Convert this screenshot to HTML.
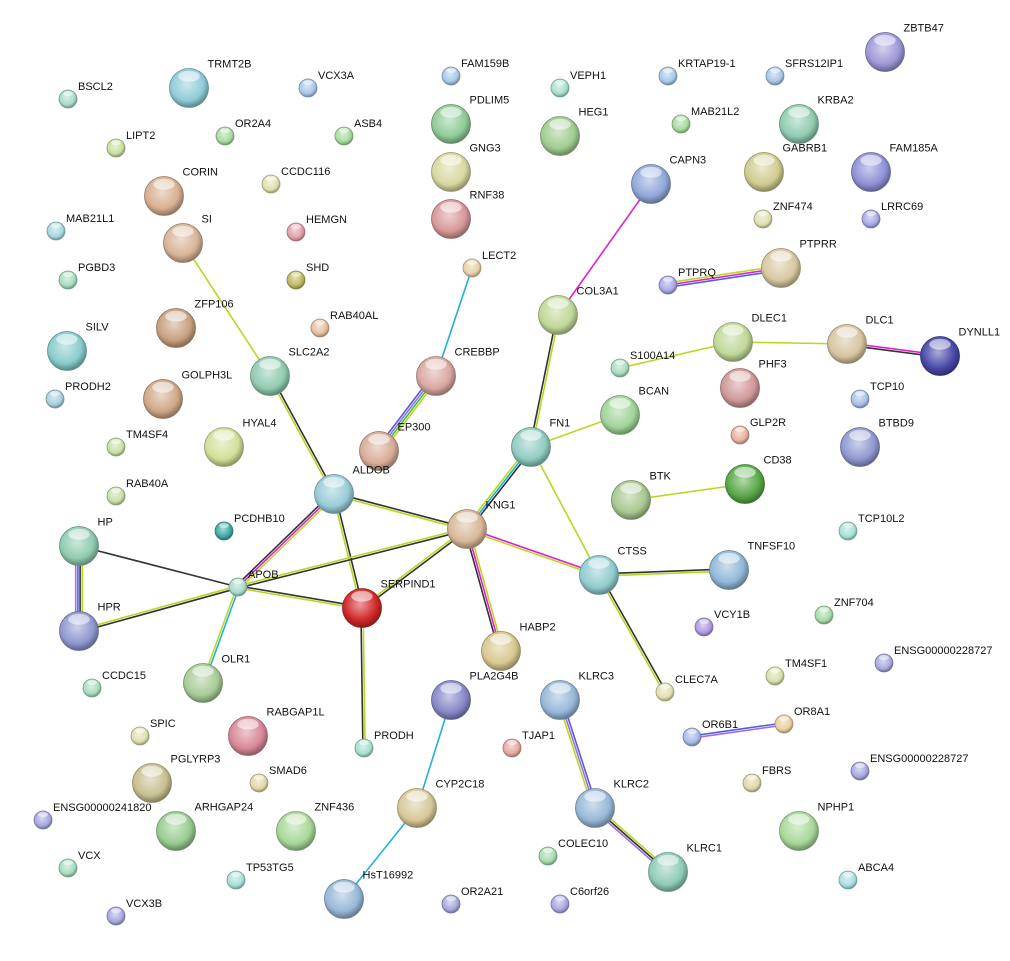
<!DOCTYPE html>
<html><head><meta charset="utf-8">
<style>
html,body{margin:0;padding:0;background:#fff;}
svg{display:block;}
text{font-family:"Liberation Sans",sans-serif;font-size:11px;fill:#111;}
</style></head>
<body>
<svg id="s" width="1010" height="961" xmlns="http://www.w3.org/2000/svg"><defs id="d"></defs><g id="e"></g><g id="n"></g></svg>
<script>
var small=[
["BSCL2",68,99,"#a8dcc8"],["FAM159B",451,76,"#a8c8e8"],["VEPH1",560,88,"#a8e0d0"],["KRTAP19-1",668,76,"#a8c8e8"],["SFRS12IP1",775,76,"#a8c8e8"],
["VCX3A",308,88,"#a8c8e8"],["LIPT2",116,148,"#c8e0a0"],["OR2A4",225,136,"#a8dca0"],["ASB4",344,136,"#a8dca0"],["MAB21L2",681,124,"#a8dca0"],
["CCDC116",271,184,"#e0e0b0"],["ZNF474",763,219,"#e0e0b0"],["LRRC69",871,219,"#a8a8e8"],["MAB21L1",56,231,"#a8d8e0"],["HEMGN",296,232,"#e0a0a8"],
["LECT2",472,268,"#e8d0a8"],["PGBD3",68,280,"#a8dcc0"],["SHD",296,280,"#c0b860"],["PTPRQ",668,285,"#a8a8e8"],["RAB40AL",320,328,"#e8c0a0"],
["S100A14",620,368,"#a8dcc0"],["PRODH2",55,399,"#a8d0e0"],["TCP10",860,399,"#a8c0e8"],["TM4SF4",116,447,"#c8e0a8"],["GLP2R",740,435,"#e8b0a0"],
["RAB40A",116,496,"#c8e0a8"],["PCDHB10",224,531,"#40a8a0"],["TCP10L2",848,531,"#a8e0d8"],["APOB",238,587,"#a8dcc8"],["VCY1B",704,627,"#b098e0"],
["ZNF704",824,615,"#a8dca8"],["ENSG00000228727",884,663,"#a8a8e0"],["TM4SF1",775,676,"#d8e0a8"],["CCDC15",92,688,"#a8dcc0"],["CLEC7A",665,692,"#e0e0b0"],
["OR6B1",692,737,"#a8b8e8"],["OR8A1",784,724,"#e8d0a0"],["SPIC",140,736,"#e0e0b0"],["PRODH",364,748,"#a8e0d0"],["TJAP1",512,748,"#e8a8a0"],
["SMAD6",259,783,"#e0d8a8"],["FBRS",752,783,"#e0d8a8"],["ENSG00000228727",860,771,"#a8a8e0"],["ENSG00000241820",43,820,"#a8a8e0"],["COLEC10",548,856,"#a8dcb0"],
["VCX",68,868,"#a8dcc0"],["TP53TG5",236,880,"#a8e0d8"],["ABCA4",848,880,"#a8e0e0"],["OR2A21",451,904,"#a8a8e0"],["C6orf26",560,904,"#a8a8e0"],["VCX3B",116,916,"#a8a8e0"]
];
var big=[
["ZBTB47",885,52,"#9c98d8"],["TRMT2B",189,88,"#90ccd8"],["PDLIM5",451,124,"#90cc98"],["HEG1",560,136,"#a0cc90"],["KRBA2",799,124,"#90ccb0"],
["CORIN",164,196,"#d8b090"],["GNG3",451,172,"#d8d8a0"],["CAPN3",651,184,"#90a8d8"],["GABRB1",764,172,"#d0cc90"],["FAM185A",871,172,"#9090d8"],
["SI",183,243,"#d8b498"],["RNF38",451,219,"#d89898"],["PTPRR",781,268,"#d8c8a0"],["ZFP106",176,328,"#c8a080"],["COL3A1",558,315,"#c0d898"],
["SILV",67,351,"#88cccc"],["SLC2A2",270,376,"#90ccb0"],["CREBBP",436,376,"#d8a8a0"],["DLEC1",733,342,"#c0d898"],["DLC1",847,344,"#d8c4a0"],
["DYNLL1",940,356,"#4848a8"],["PHF3",740,388,"#d09898"],["GOLPH3L",163,399,"#d0a888"],["BCAN",620,415,"#a0d498"],["HYAL4",224,447,"#d0e098"],
["EP300",379,451,"#d8ac98"],["FN1",531,447,"#90ccc0"],["BTBD9",860,447,"#9098d0"],["CD38",745,484,"#58a848"],["BTK",631,500,"#a8c890"],
["ALDOB",334,494,"#98ccd8"],["KNG1",467,529,"#d8b898"],["HP",79,546,"#90ccb0"],["SERPIND1",362,608,"#d02828"],["CTSS",599,575,"#90ccd0"],
["TNFSF10",729,570,"#90b8d8"],["HPR",79,631,"#9098d0"],["HABP2",501,651,"#d8c890"],["OLR1",203,683,"#a8cc98"],["PLA2G4B",451,700,"#8888c8"],
["KLRC3",560,700,"#98b8d8"],["RABGAP1L",248,736,"#d88898"],["PGLYRP3",152,783,"#c8c090"],["CYP2C18",417,808,"#d8c898"],["KLRC2",595,808,"#98b8d8"],
["ARHGAP24",176,831,"#98cc90"],["ZNF436",296,831,"#a8d898"],["NPHP1",799,831,"#a8d898"],["HsT16992",344,899,"#98b8d8"],["KLRC1",668,872,"#90ccb8"]
];
var P={};small.forEach(function(a){P[a[0]]=[a[1],a[2]];});big.forEach(function(a){P[a[0]]=[a[1],a[2]];});
var Y="#b8d820",K="#333",M="#e020d0",C="#20b0e0",B="#5060e0",V="#a070e0",G="#40c040";
var edges=[
["SI","SLC2A2",[Y]],["LECT2","CREBBP",[C]],["CREBBP","EP300",[Y,G,V,B]],["CAPN3","COL3A1",[M]],["COL3A1","FN1",[Y,K]],
["PTPRQ","PTPRR",[Y,M,B]],["S100A14","DLEC1",[Y]],["DLEC1","DLC1",[Y]],["DLC1","DYNLL1",[M,K]],["FN1","BCAN",[Y]],
["FN1","KNG1",[K,C,Y]],["FN1","CTSS",[Y]],["BTK","CD38",[Y]],["SLC2A2","ALDOB",[K,Y]],["ALDOB","KNG1",[K,Y]],
["ALDOB","APOB",[Y,M,K]],["ALDOB","SERPIND1",[K,Y]],["KNG1","APOB",[K,Y]],["KNG1","SERPIND1",[K,Y]],["KNG1","HABP2",[Y,M,K]],
["KNG1","CTSS",[M,Y]],["CTSS","TNFSF10",[K,Y]],["CTSS","CLEC7A",[K,Y]],["HP","HPR",[Y,K,B,V]],["HP","APOB",[K]],
["HPR","APOB",[Y,K]],["APOB","SERPIND1",[K,Y]],["APOB","OLR1",[C,Y]],["SERPIND1","PRODH",[Y,K]],["PLA2G4B","CYP2C18",[C]],
["CYP2C18","HsT16992",[C]],["KLRC3","KLRC2",[B,V,Y]],["KLRC2","KLRC1",[Y,K,V]],["OR6B1","OR8A1",[B,V]]
];
var NS="http://www.w3.org/2000/svg";
function el(t,at,par){var e=document.createElementNS(NS,t);for(var k in at)e.setAttribute(k,at[k]);if(par)par.appendChild(e);return e;}
var eg=document.getElementById("e"),ng=document.getElementById("n"),dg=document.getElementById("d");
edges.forEach(function(ed){var a=P[ed[0]],b=P[ed[1]];var dx=b[0]-a[0],dy=b[1]-a[1],L=Math.sqrt(dx*dx+dy*dy);var nx=-dy/L,ny=dx/L;var n=ed[2].length;
ed[2].forEach(function(c,i){var o=(i-(n-1)/2)*2.2;el("line",{x1:a[0]+nx*o,y1:a[1]+ny*o,x2:b[0]+nx*o,y2:b[1]+ny*o,stroke:c,"stroke-width":1.6},eg);});});
var gid=0;
function shade(hex,f){var r=parseInt(hex.substr(1,2),16),g=parseInt(hex.substr(3,2),16),b=parseInt(hex.substr(5,2),16);
function m(v){return Math.max(0,Math.min(255,Math.round(f<0?v*(1+f):v+(255-v)*f)));}
return "rgb("+m(r)+","+m(g)+","+m(b)+")";}
function node(a,r){var id="g"+(gid++);var gr=el("radialGradient",{id:id,cx:"45%",cy:"40%",r:"60%"},dg);
el("stop",{offset:"0%","stop-color":shade(a[3],0.55)},gr);el("stop",{offset:"70%","stop-color":a[3]},gr);el("stop",{offset:"100%","stop-color":shade(a[3],-0.35)},gr);
el("circle",{cx:a[1],cy:a[2],r:r,fill:"url(#"+id+")",stroke:shade(a[3],-0.3),"stroke-width":0.8},ng);
el("ellipse",{cx:a[1],cy:a[2]-r*0.6,rx:r*0.55,ry:r*0.28,fill:"#fff","fill-opacity":0.55},ng);
var t=el("text",{x:a[1]+(r>12?r-1:10),y:a[2]-(r>12?r+1:9)},ng);t.textContent=a[0];}
small.forEach(function(a){node(a,9);});
big.forEach(function(a){node(a,19.5);});
</script>
</body></html>
